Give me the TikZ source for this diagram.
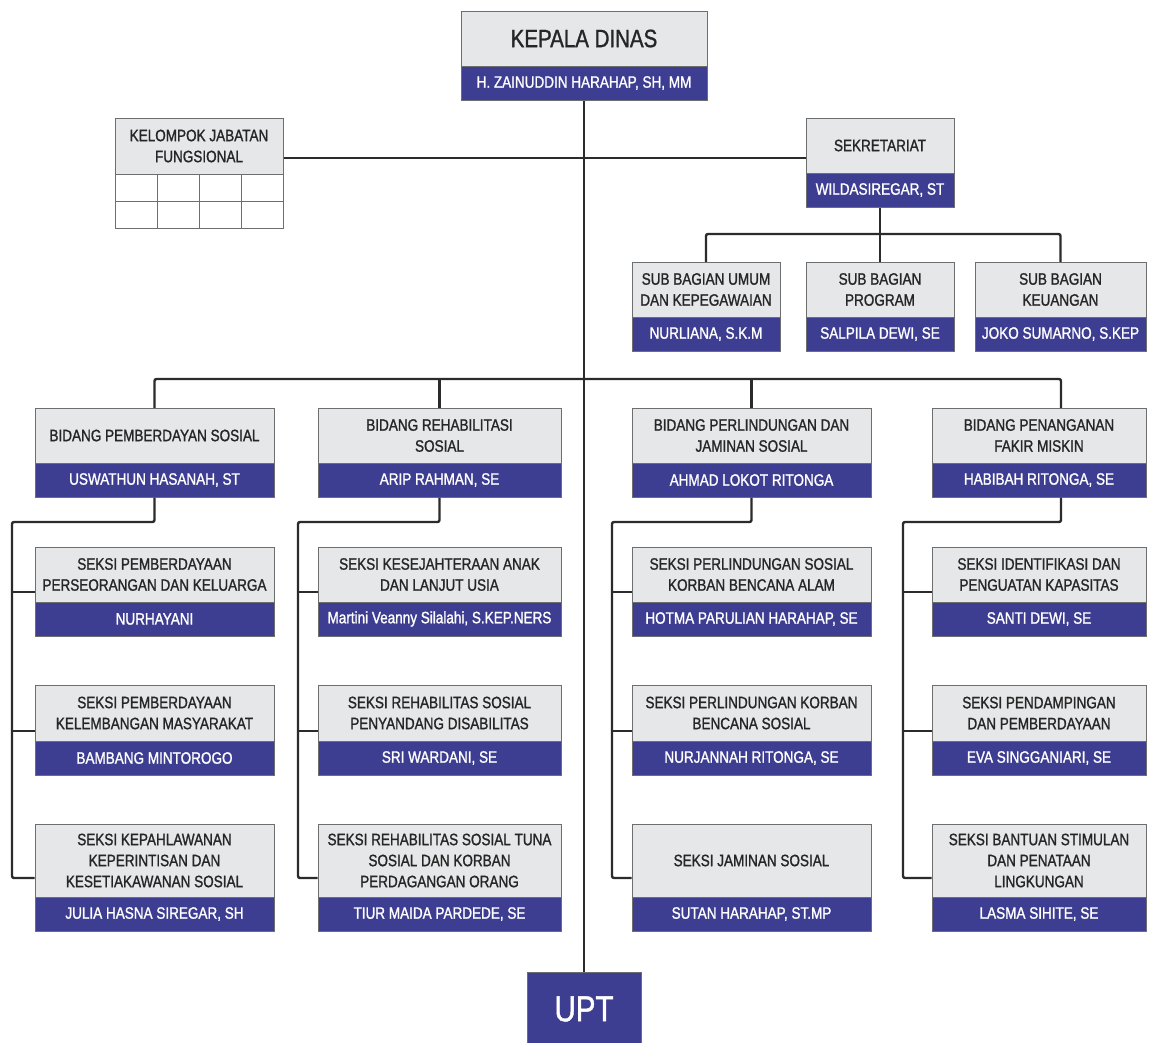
\documentclass[tikz,border=0pt]{standalone}
\usepackage{fontspec}
\setmainfont{Liberation Sans}[FakeStretch=0.82, UprightFeatures={FakeBold=1.2}]
\usetikzlibrary{fit}
\definecolor{boxgray}{HTML}{E6E7E8}
\definecolor{boxblue}{HTML}{3D3D91}
\definecolor{edgegray}{HTML}{6D6E70}
\definecolor{inkdark}{HTML}{262626}
\definecolor{linedark}{HTML}{2B2B2B}
\tikzset{
  graypart/.style={fill=boxgray, draw=edgegray, line width=1pt, inner sep=0pt},
  bluepart/.style={fill=boxblue, draw=edgegray, line width=1pt, inner sep=0pt},
  graytext/.style={inner sep=0pt, align=center, text=inkdark, font=\fontsize{16.5}{21}\selectfont},
  bluetext/.style={inner sep=0pt, align=center, text=white, font=\fontsize{16.5}{21}\selectfont},
  cellpart/.style={fill=white, draw=edgegray, line width=1pt, inner sep=0pt},
  conn/.style={draw=linedark, line width=2.4pt, rounded corners=2pt},
}
\newcommand\orgunit[8]{%
  \node[graypart, fit={(#2,#4)(#3,#5)}] (#1t) {};
  \node[bluepart, fit={(#2,#5)(#3,#6)}] (#1b) {};
  \node[graytext] (#1tl) at (#1t.center) {#7};
  \node[bluetext] (#1bl) at (#1b.center) {#8};}
\begin{document}
\begin{tikzpicture}[x=1pt,y=-1pt]
\fill[white] (0,0) rectangle (1151,1042);
\useasboundingbox (0,0) rectangle (1151,1042);
% helper coordinates
\coordinate (hy) at (0,158);
\coordinate (sy) at (0,234);
\coordinate (by) at (0,379);
\coordinate (b4x) at (1061,0);
\coordinate (r1) at (0,592);
\coordinate (r2) at (0,731);
\coordinate (r3) at (0,878);
\coordinate (k1) at (12,522);
\coordinate (k2) at (298,522);
\coordinate (k3) at (612,522);
\coordinate (k4) at (903,522);
% UPT
\node[bluepart, fit={(527,972)(641,1046)}] (upt) {};
\node[bluetext, font=\fontsize{36}{40}\selectfont] (uptl) at (584,1009) {UPT};
% connectors first (under boxes)
\draw[conn] (584,100) -- (upt.north);
\draw[conn] (283,158) -- (806,158);
\draw[conn] (880,207) -- (880,234);
\draw[conn] (706,262) -- (706,234) -- (1060.5,234) -- (1060.5,262);
\draw[conn] (880,234) -- (880,262);
\draw[conn] (154.5,408) -- (154.5,379) -- (1061,379) -- (1061,408);
\draw[conn] (439.5,379) -- (439.5,408);
\draw[conn] (751.5,379) -- (751.5,408);
% Kepala Dinas
\orgunit{kd}{461}{707}{11}{66}{100}{\fontsize{25}{30}\selectfont KEPALA DINAS}{H. ZAINUDDIN HARAHAP, SH, MM}
% Kelompok jabatan fungsional
\node[graypart, fit={(115,118)(283,174)}] (kelt) {};
\node[graytext] (keltl) at (kelt.center) {KELOMPOK JABATAN\\FUNGSIONAL};
\foreach \i/\xa/\xb in {1/115/157,2/157/199,3/199/241,4/241/283}{
  \node[cellpart, fit={(\xa,174)(\xb,201)}] (kelc1\i) {};
  \node[cellpart, fit={(\xa,201)(\xb,228)}] (kelc2\i) {};
}
% Sekretariat
\orgunit{sek}{806}{954}{118}{173}{207}{SEKRETARIAT}{WILDASIREGAR, ST}
\orgunit{sub1}{632}{780}{262}{317}{351}{SUB BAGIAN UMUM\\DAN KEPEGAWAIAN}{NURLIANA, S.K.M}
\orgunit{sub2}{806}{954}{262}{317}{351}{SUB BAGIAN\\PROGRAM}{SALPILA DEWI, SE}
\orgunit{sub3}{975}{1146}{262}{317}{351}{SUB BAGIAN\\KEUANGAN}{JOKO SUMARNO, S.KEP}
% Bidang
\orgunit{b1}{35}{274}{408}{463}{497}{BIDANG PEMBERDAYAN SOSIAL}{USWATHUN HASANAH, ST}
\orgunit{b2}{318}{561}{408}{463}{497}{BIDANG REHABILITASI\\SOSIAL}{ARIP RAHMAN, SE}
\orgunit{b3}{632}{871}{408}{463}{497}{BIDANG PERLINDUNGAN DAN\\JAMINAN SOSIAL}{AHMAD LOKOT RITONGA}
\orgunit{b4}{932}{1146}{408}{463}{497}{BIDANG PENANGANAN\\FAKIR MISKIN}{HABIBAH RITONGA, SE}
% Seksi column 1
\orgunit{s11}{35}{274}{547}{602}{636}{SEKSI PEMBERDAYAAN\\PERSEORANGAN DAN KELUARGA}{NURHAYANI}
\orgunit{s12}{35}{274}{685}{741}{775}{SEKSI PEMBERDAYAAN\\KELEMBANGAN MASYARAKAT}{BAMBANG MINTOROGO}
\orgunit{s13}{35}{274}{824}{897}{931}{SEKSI KEPAHLAWANAN\\KEPERINTISAN DAN\\KESETIAKAWANAN SOSIAL}{JULIA HASNA SIREGAR, SH}
% Seksi column 2
\orgunit{s21}{318}{561}{547}{602}{636}{SEKSI KESEJAHTERAAN ANAK\\DAN LANJUT USIA}{Martini Veanny Silalahi, S.KEP.NERS}
\orgunit{s22}{318}{561}{685}{741}{775}{SEKSI REHABILITAS SOSIAL\\PENYANDANG DISABILITAS}{SRI WARDANI, SE}
\orgunit{s23}{318}{561}{824}{897}{931}{SEKSI REHABILITAS SOSIAL TUNA\\SOSIAL DAN KORBAN\\PERDAGANGAN ORANG}{TIUR MAIDA PARDEDE, SE}
% Seksi column 3
\orgunit{s31}{632}{871}{547}{602}{636}{SEKSI PERLINDUNGAN SOSIAL\\KORBAN BENCANA ALAM}{HOTMA PARULIAN HARAHAP, SE}
\orgunit{s32}{632}{871}{685}{741}{775}{SEKSI PERLINDUNGAN KORBAN\\BENCANA SOSIAL}{NURJANNAH RITONGA, SE}
\orgunit{s33}{632}{871}{824}{897}{931}{SEKSI JAMINAN SOSIAL}{SUTAN HARAHAP, ST.MP}
% Seksi column 4
\orgunit{s41}{932}{1146}{547}{602}{636}{SEKSI IDENTIFIKASI DAN\\PENGUATAN KAPASITAS}{SANTI DEWI, SE}
\orgunit{s42}{932}{1146}{685}{741}{775}{SEKSI PENDAMPINGAN\\DAN PEMBERDAYAAN}{EVA SINGGANIARI, SE}
\orgunit{s43}{932}{1146}{824}{897}{931}{SEKSI BANTUAN STIMULAN\\DAN PENATAAN\\LINGKUNGAN}{LASMA SIHITE, SE}
% column connectors
\draw[conn] (b1b.south) |- (k1) |- (s13t.west |- r3);
\draw[conn] (k1 |- r1) -- (s11t.west |- r1);
\draw[conn] (k1 |- r2) -- (s12t.west |- r2);
\draw[conn] (b2b.south) |- (k2) |- (s23t.west |- r3);
\draw[conn] (k2 |- r1) -- (s21t.west |- r1);
\draw[conn] (k2 |- r2) -- (s22t.west |- r2);
\draw[conn] (b3b.south) |- (k3) |- (s33t.west |- r3);
\draw[conn] (k3 |- r1) -- (s31t.west |- r1);
\draw[conn] (k3 |- r2) -- (s32t.west |- r2);
\draw[conn] (b4x |- b4b.south) |- (k4) |- (s43t.west |- r3);
\draw[conn] (k4 |- r1) -- (s41t.west |- r1);
\draw[conn] (k4 |- r2) -- (s42t.west |- r2);
\draw[conn] (kdb.south) -- (kdb.south |- hy);
\draw[conn] (sekb.south) -- (sekb.south |- sy);
\end{tikzpicture}
\end{document}
